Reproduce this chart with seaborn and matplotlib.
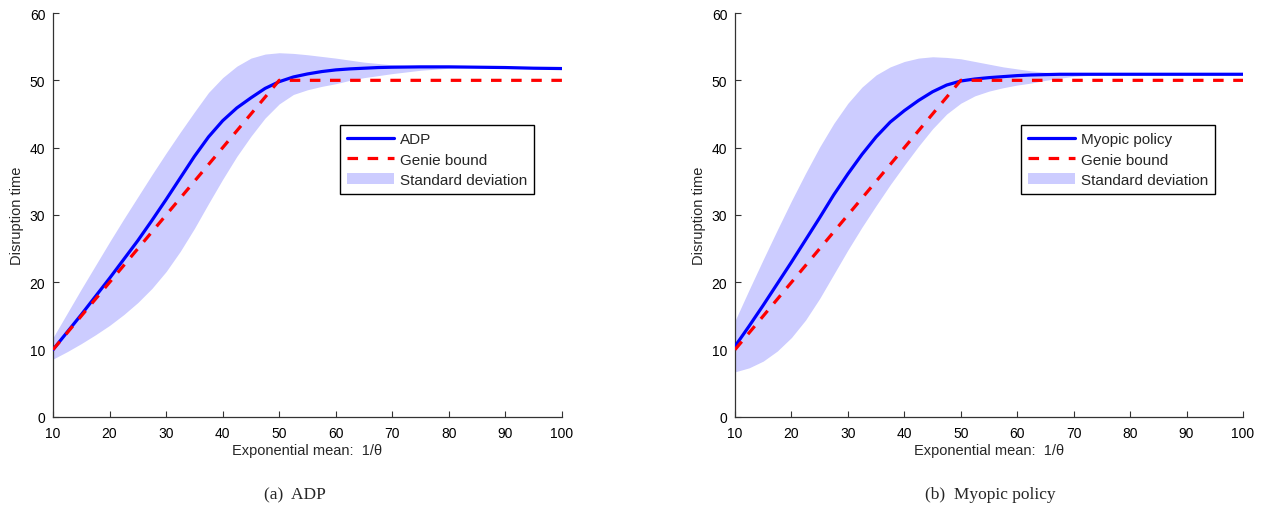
import numpy as np
import pandas as pd
import matplotlib
matplotlib.use("Agg")
import matplotlib.pyplot as plt
import seaborn as sns
from matplotlib.patches import Patch
from matplotlib.lines import Line2D

# ---------------- data ----------------
x_vals = [10, 12.5, 15, 17.5, 20, 22.5, 25, 27.5, 30, 32.5, 35, 37.5, 40, 42.5, 45, 47.5,
          50, 52.5, 55, 57.5, 60, 62.5, 65, 67.5, 70, 75, 80, 85, 90, 95, 100]
genie = [10, 12.5, 15, 17.5, 20, 22.5, 25, 27.5, 30, 32.5, 35, 37.5, 40, 42.5, 45, 47.5,
         50, 50, 50, 50, 50, 50, 50, 50, 50, 50, 50, 50, 50, 50, 50]

adp_mean = [10.0, 12.6, 15.2, 17.9, 20.6, 23.4, 26.2, 29.2, 32.3, 35.5, 38.7, 41.6, 44.0, 45.9, 47.4, 48.8,
            49.8, 50.5, 50.95, 51.3, 51.55, 51.7, 51.8, 51.9, 51.95, 52.0, 52.0, 51.95, 51.9, 51.8, 51.75]
adp_upper = [11.8, 15.4, 19.0, 22.5, 26.0, 29.4, 32.7, 36.0, 39.2, 42.3, 45.3, 48.2, 50.4, 52.1, 53.3, 53.9,
             54.1, 54.0, 53.8, 53.55, 53.3, 53.0, 52.7, 52.5, 52.3, 52.1, 52.05, 51.95, 51.9, 51.8, 51.75]
adp_lower = [8.6, 9.7, 10.9, 12.2, 13.6, 15.2, 17.0, 19.1, 21.6, 24.6, 28.0, 31.7, 35.3, 38.7, 41.7, 44.4,
             46.5, 47.9, 48.6, 49.1, 49.5, 50.0, 50.4, 50.7, 51.0, 51.5, 51.8, 51.95, 51.9, 51.8, 51.75]

myo_mean = [10.5, 13.5, 16.6, 19.8, 23.0, 26.3, 29.6, 33.0, 36.1, 39.0, 41.6, 43.8, 45.5, 47.0, 48.3, 49.3,
            49.9, 50.2, 50.4, 50.55, 50.7, 50.8, 50.85, 50.9, 50.9, 50.9, 50.9, 50.9, 50.9, 50.9, 50.9]
myo_upper = [14.3, 18.9, 23.4, 27.8, 32.1, 36.2, 40.1, 43.6, 46.6, 49.0, 50.8, 52.0, 52.8, 53.3, 53.5, 53.4,
             53.2, 52.8, 52.4, 52.0, 51.7, 51.4, 51.2, 51.05, 50.95, 50.9, 50.9, 50.9, 50.9, 50.9, 50.9]
myo_lower = [6.7, 7.3, 8.3, 9.8, 11.8, 14.4, 17.6, 21.2, 24.8, 28.2, 31.4, 34.5, 37.4, 40.2, 42.8, 45.0,
             46.6, 47.7, 48.4, 48.9, 49.3, 49.6, 50.0, 50.3, 50.6, 50.85, 50.9, 50.9, 50.9, 50.9, 50.9]

x_ticks = [10, 20, 30, 40, 50, 60, 70, 80, 90, 100]
y_ticks = [0, 10, 20, 30, 40, 50, 60]

panels = [
    ("ADP", adp_mean, adp_upper, adp_lower, "(a)  ADP"),
    ("Myopic policy", myo_mean, myo_upper, myo_lower, "(b)  Myopic policy"),
]

# ---------------- style ----------------
sns.set_style("ticks")
plt.rcParams["font.family"] = ["Liberation Sans", "DejaVu Sans"]
plt.rcParams["xtick.direction"] = "in"
plt.rcParams["ytick.direction"] = "in"

BLUE = "#0000ff"
RED = "#ff0000"
BAND = "#ccccff"

fig = plt.figure(figsize=(12.73, 5.10), dpi=100)
W, H = 1273, 510
axes_px = [(53, 562), (735, 1243)]
legend_x_px = [340, 1021]
caption_x_px = [295, 990]
top_px, bot_px = 14, 418

for (name, mean, up, lo, cap), (l, r), lx, cx in zip(panels, axes_px, legend_x_px, caption_x_px):
    ax = fig.add_axes([l / W, 1 - bot_px / H, (r - l) / W, (bot_px - top_px) / H])
    df = pd.DataFrame({"x": x_vals, "mean": mean, "genie": genie, "up": up, "lo": lo})
    ax.fill_between(df["x"], df["lo"], df["up"], color=BAND, linewidth=0, zorder=1)
    sns.lineplot(data=df, x="x", y="mean", ax=ax, color=BLUE, linewidth=2.3, zorder=3)
    sns.lineplot(data=df, x="x", y="genie", ax=ax, color=RED, linewidth=2.3, zorder=4)
    ax.lines[-1].set_dashes((3.3, 3.0))

    ax.set_xlim(10, 100)
    ax.set_ylim(0, 60)
    ax.set_xticks(x_ticks)
    ax.set_yticks(y_ticks)
    ax.tick_params(axis="both", labelsize=10, length=4, width=0.8, color="#333333",
                   labelcolor="black")
    ax.tick_params(axis="x", pad=6.5)
    ax.tick_params(axis="y", pad=5.5)
    for s in ["top", "right"]:
        ax.spines[s].set_visible(False)
    for s in ["left", "bottom"]:
        ax.spines[s].set_linewidth(0.9)
        ax.spines[s].set_color("#333333")
    ax.set_xlabel("Exponential mean:  1/\u03b8", fontsize=10.5, labelpad=2)
    ax.set_ylabel("Disruption time", fontsize=10.5, labelpad=4)

    handles = [
        Line2D([0], [0], color=BLUE, linewidth=2.3),
        Line2D([0], [0], color=RED, linewidth=2.3, dashes=(3.3, 3.0)),
        Patch(facecolor=BAND, edgecolor="none"),
    ]
    leg = ax.legend(handles, [name, "Genie bound", "Standard deviation"],
                    loc="upper left", bbox_to_anchor=((lx - l) / (r - l), 0.722),
                    fontsize=11, frameon=True, fancybox=False, framealpha=1,
                    edgecolor="black", handlelength=3.1, handletextpad=0.4,
                    borderpad=0.45, labelspacing=0.42, borderaxespad=0)
    leg.get_frame().set_linewidth(1.0)

    fig.text(cx / W, 1 - 495 / H, cap, ha="center", va="center",
             fontsize=12.5, family=["Liberation Serif", "DejaVu Serif"])

fig.savefig("out.png", dpi=100)
